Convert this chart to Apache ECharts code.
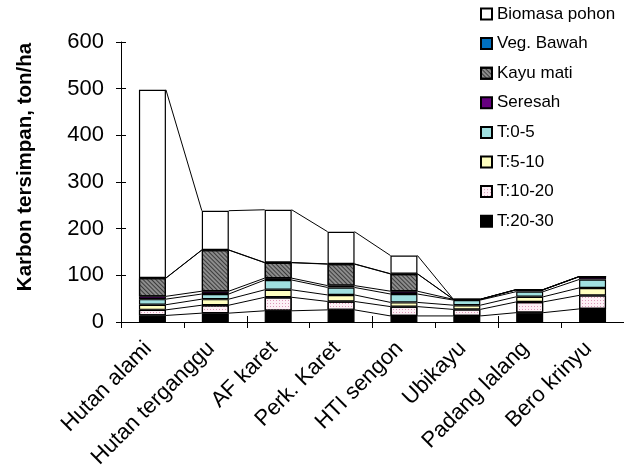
<!DOCTYPE html>
<html>
<head>
<meta charset="utf-8">
<script src="https://cdn.jsdelivr.net/npm/echarts@6/dist/echarts.min.js"></script>
<style>html,body{margin:0;padding:0;background:#fff}#c{width:624px;height:472px}</style>
</head>
<body>
<div id="c"></div>
<script>
const categories = ['Hutan alami','Hutan terganggu','AF karet','Perk. Karet','HTI sengon','Ubikayu','Padang lalang','Bero krinyu'];
const t20_30  = [14, 19, 24, 26, 13, 13, 20, 28];
const t10_20  = [12, 17, 29, 18, 20, 14, 23, 29];
const t5_10   = [11, 13, 16, 14, 9, 9, 11, 16];
const t0_5    = [12, 11, 21, 16, 18, 11, 11, 18];
const seresah = [6, 6, 4, 4, 6, 1.5, 4, 6];
const kayuMati = [39, 88, 33, 46, 37, 0, 0, 0];
const vegBawah = [0.5, 0.5, 0.5, 0.5, 0.5, 0.3, 0.5, 0.5];
const biomasa = [403, 84, 113, 69, 39, 0, 0, 0];
const yTicks = [0, 100, 200, 300, 400, 500, 600];

const FONT = "Arial, 'Liberation Sans', sans-serif";
const BAR_W = 27;

const layers = [
  {name:'T:20-30', data:t20_30, color:'#000000'},
  {name:'T:10-20', data:t10_20, color:'#fdf1f6', decal:{symbol:'rect', symbolSize:1, dashArrayX:[1,2], dashArrayY:[1,2], color:'#dc98b8'}},
  {name:'T:5-10', data:t5_10, color:'#ffffc0'},
  {name:'T:0-5', data:t0_5, color:'#a0e0e0'},
  {name:'Seresah', data:seresah, color:'#660080'},
  {name:'Kayu mati', data:kayuMati, color:'#8c8c8c', decal:{symbol:'rect', symbolSize:1, dashArrayX:[1,0], dashArrayY:[1,2], rotation:Math.PI/4, color:'rgba(45,45,45,0.85)'}},
  {name:'Veg. Bawah', data:vegBawah, color:'#0070c0'},
  {name:'Biomasa pohon', data:biomasa, color:'#ffffff'}
];

// cumulative tops per layer
const cum = [];
layers.forEach((l, k) => {
  cum.push(l.data.map((v, i) => v + (k ? cum[k-1][i] : 0)));
});

const barSeries = layers.map(l => ({
  name: l.name, type:'bar', stack:'total', barWidth: BAR_W,
  data: l.data,
  itemStyle: Object.assign({color:l.color, borderColor:'#000', borderWidth:1.2}, l.decal ? {decal:l.decal} : {}),
  emphasis:{disabled:true}, animation:false
}));

const linkSeries = {
  type:'custom', xAxisIndex:0, yAxisIndex:0, silent:true, animation:false,
  data: categories.slice(0, -1).map((c, i) => [i, 0]),
  renderItem: function (params, api) {
    const i = api.value(0);
    const children = cum.map(level => {
      const a = api.coord([i, level[i]]);
      const b = api.coord([i + 1, level[i + 1]]);
      return {type:'line', shape:{x1:a[0] + BAR_W/2, y1:a[1], x2:b[0] - BAR_W/2, y2:b[1]},
              style:{stroke:'#000', lineWidth:1}};
    });
    return {type:'group', children};
  }
};

const chart = echarts.init(document.getElementById('c'), null, {renderer:'canvas'});
chart.setOption({
  backgroundColor:'#fff',
  animation:false,
  grid:{left:121, right:-3, top:42, bottom:150, containLabel:false},
  legend:{
    orient:'vertical', left:480, top:5, padding:0,
    itemWidth:11, itemHeight:11, itemGap:11.6,
    icon:'rect',
    data:['Biomasa pohon','Veg. Bawah','Kayu mati','Seresah','T:0-5','T:5-10','T:10-20','T:20-30'],
    textStyle:{fontFamily:FONT, fontSize:17, color:'#000', lineHeight:18},
    selectedMode:false
  },
  xAxis:[
    {type:'category', data:categories, position:'bottom',
     axisLine:{lineStyle:{color:'#000', width:1}},
     axisTick:{show:true, length:6, inside:false, lineStyle:{color:'#000'}},
     axisLabel:{rotate:45, margin:19, padding:[0, 6, 0, 0], fontFamily:FONT, fontSize:22, color:'#000', interval:0}},
    {type:'category', data:categories, position:'bottom',
     axisLine:{show:false},
     axisTick:{show:true, length:6, inside:true, lineStyle:{color:'#000'}},
     axisLabel:{show:false}}
  ],
  yAxis:[
    {type:'value', min:yTicks[0], max:yTicks[yTicks.length-1], interval:100,
     axisLine:{show:true, lineStyle:{color:'#000', width:1}},
     axisTick:{show:true, length:5, lineStyle:{color:'#000'}},
     splitLine:{show:false},
     axisLabel:{margin:17, fontFamily:FONT, fontSize:22, color:'#000'}},
    {type:'value', min:yTicks[0], max:yTicks[yTicks.length-1], interval:100, position:'left', offset:0,
     axisLine:{show:false},
     axisTick:{show:true, inside:true, length:5, lineStyle:{color:'#000'}},
     splitLine:{show:false}, axisLabel:{show:false}}
  ],
  graphic:[{
    type:'text', x:25, y:167, rotation:Math.PI/2,
    style:{text:'Karbon tersimpan, ton/ha', x:0, y:0, align:'center', verticalAlign:'middle',
           fontFamily:FONT, fontSize:20.5, fontWeight:'bold', fill:'#000'}
  }],
  series: barSeries.concat([linkSeries])
});
</script>
</body>
</html>
